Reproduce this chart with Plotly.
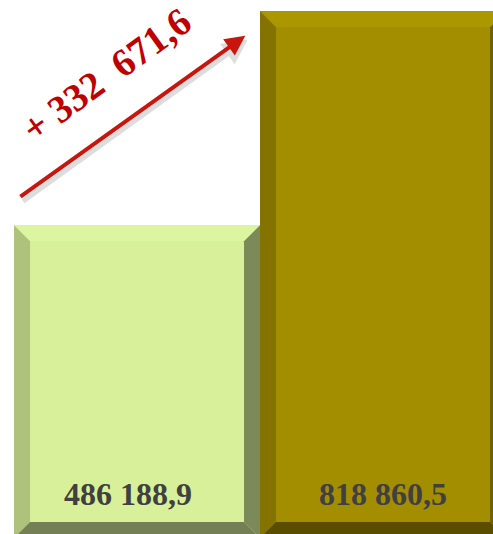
import plotly.graph_objects as go

categories = ["A", "B"]
values = [486188.9, 818860.5]
labels = ["486 188,9", "818 860,5"]
delta_label = "+ 332  671,6"

face_colors = ["#d8f09a", "#a38e00"]
top_colors = ["#dcf6a0", "#ab9700"]
left_colors = ["#aec27c", "#857300"]
right_colors = ["#7b8a58", "#6f6000"]
bottom_colors = ["#757f55", "#5a4d00"]
label_shifts = [-9, 0]

W, H = 493, 534
X_RANGE = [-0.557, 1.447]
Y_RANGE = [6200, 836300]
px_x = W / (X_RANGE[1] - X_RANGE[0])
px_y = H / (Y_RANGE[1] - Y_RANGE[0])
BEVEL = 16
bx = BEVEL / px_x
by = BEVEL / px_y

xs = list(range(len(categories)))

fig = go.Figure()
fig.add_trace(go.Bar(x=xs, y=values, marker=dict(color=face_colors, line=dict(width=0)),
                     width=1.0, hoverinfo="skip"))

for i, v in enumerate(values):
    x0, x1 = i - 0.5, i + 0.5
    y0, y1 = 0, v
    faces = [
        ([x0, x1, x1 - bx, x0 + bx, x0], [y1, y1, y1 - by, y1 - by, y1], top_colors[i]),
        ([x0, x0 + bx, x0 + bx, x0, x0], [y1, y1 - by, y0 + by, y0, y1], left_colors[i]),
        ([x1, x1, x1 - bx, x1 - bx, x1], [y1, y0, y0 + by, y1 - by, y1], right_colors[i]),
        ([x0, x0 + bx, x1 - bx, x1, x0], [y0, y0 + by, y0 + by, y0, y0], bottom_colors[i]),
    ]
    for fx, fy, c in faces:
        fig.add_trace(go.Scatter(x=fx, y=fy, fill="toself", fillcolor=c, mode="none",
                                 hoverinfo="skip", showlegend=False))

LABEL_Y = 68400
for i, t in enumerate(labels):
    fig.add_annotation(x=xs[i], y=LABEL_Y, xref="x", yref="y", text=t, showarrow=False,
                       xshift=label_shifts[i],
                       font=dict(family="Liberation Serif", size=32, color="#404040", weight="bold"))

# arrow shadow
fig.add_annotation(x=0.45, y=775000, ax=-0.47, ay=522000, xref="x", yref="y", axref="x", ayref="y",
                   text="", showarrow=True, arrowhead=2, arrowsize=1.0, arrowwidth=5,
                   arrowcolor="rgba(0,0,0,0.13)")
# arrow
fig.add_annotation(x=0.44, y=780700, ax=-0.48, ay=528800, xref="x", yref="y", axref="x", ayref="y",
                   text="", showarrow=True, arrowhead=2, arrowsize=1.0, arrowwidth=4,
                   arrowcolor="#c8160e")
fig.add_annotation(x=106 / W, y=1 - 74 / H, xref="paper", yref="paper", text=delta_label,
                   showarrow=False, textangle=-36, xanchor="center", yanchor="middle",
                   font=dict(family="Liberation Serif", size=39, color="#c00000", weight="bold"))

fig.update_layout(
    width=W, height=H, margin=dict(l=0, r=0, t=0, b=0),
    paper_bgcolor="white", plot_bgcolor="white", showlegend=False, bargap=0,
    xaxis=dict(range=X_RANGE, visible=False, fixedrange=True),
    yaxis=dict(range=Y_RANGE, visible=False, fixedrange=True),
)
fig.write_html("out.html", config={"displayModeBar": False},
               post_script="document.body.style.margin='0';document.body.style.overflow='hidden';")
